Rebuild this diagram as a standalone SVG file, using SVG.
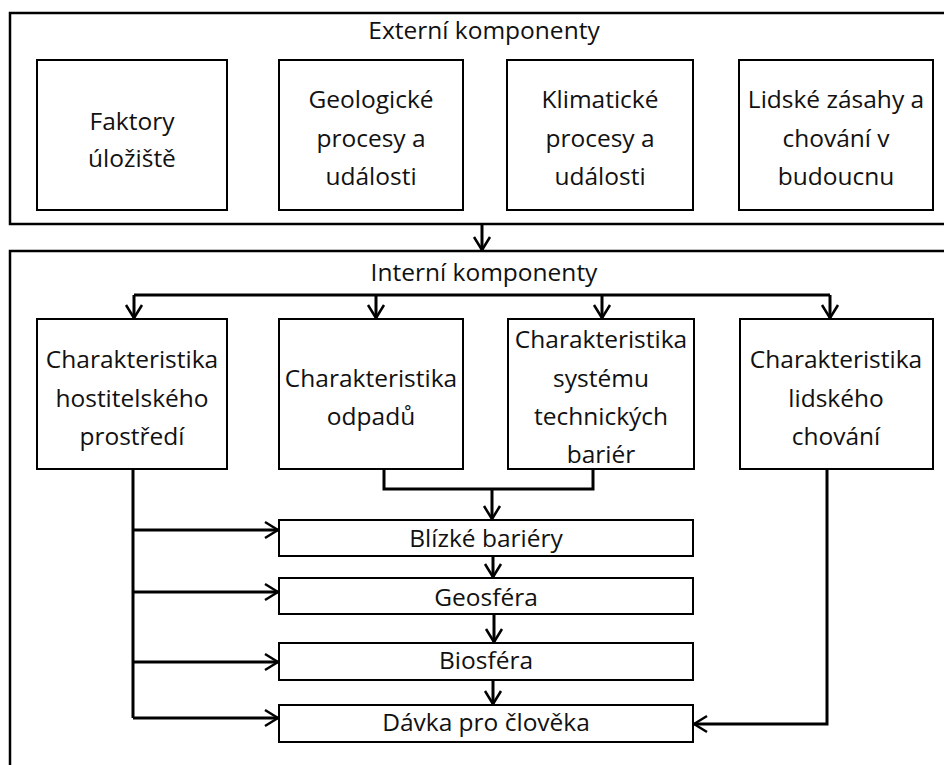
<svg xmlns="http://www.w3.org/2000/svg" width="944" height="765" viewBox="0 0 944 765">
  <defs>
    <marker id="arrow" markerUnits="userSpaceOnUse" markerWidth="24" markerHeight="24" viewBox="-16 -12 24 24" refX="0" refY="0" orient="auto" overflow="visible">
      <path d="M-13,-8 L0,0 L-13,8" fill="none" stroke="#000" stroke-width="2.5" stroke-linejoin="round"/>
    </marker>
  </defs>
  <style>
    .frame { fill: none; stroke: #000; stroke-width: 2.5; }
    .box { fill: #fff; stroke: #000; stroke-width: 2; }
    .lbl { font-family: "Open Sans", "Liberation Sans", sans-serif; font-size: 24.5px; fill: #111; text-anchor: middle; }
    .wire { fill: none; stroke: #000; stroke-width: 3; }
    .arr { marker-end: url(#arrow); }
  </style>
  <rect width="944" height="765" fill="#fff"/>

  <!-- external components frame -->
  <g id="external">
    <rect class="frame" x="10" y="13" width="960" height="211"/>
    <text class="lbl" x="484" y="39">Externí komponenty</text>
  </g>
  <g id="faktory">
    <rect class="box" x="37" y="60" width="190" height="150"/>
    <text class="lbl" x="132" y="130">Faktory</text>
    <text class="lbl" x="132" y="167">úložiště</text>
  </g>
  <g id="geologicke">
    <rect class="box" x="279" y="60" width="184" height="150"/>
    <text class="lbl" x="371" y="108">Geologické</text>
    <text class="lbl" x="371" y="146.5">procesy a</text>
    <text class="lbl" x="371" y="185">události</text>
  </g>
  <g id="klimaticke">
    <rect class="box" x="507" y="60" width="186" height="150"/>
    <text class="lbl" x="600" y="108">Klimatické</text>
    <text class="lbl" x="600" y="146.5">procesy a</text>
    <text class="lbl" x="600" y="185">události</text>
  </g>
  <g id="lidske-zasahy">
    <rect class="box" x="739" y="60" width="194" height="150"/>
    <text class="lbl" x="836" y="108">Lidské zásahy a</text>
    <text class="lbl" x="836" y="146.5">chování v</text>
    <text class="lbl" x="836" y="185">budoucnu</text>
  </g>

  <!-- internal components frame -->
  <g id="internal">
    <rect class="frame" x="10" y="251" width="960" height="530"/>
    <text class="lbl" x="484" y="281">Interní komponenty</text>
  </g>
  <g id="hostitelske">
    <rect class="box" x="37" y="319" width="190" height="150"/>
    <text class="lbl" x="132" y="368">Charakteristika</text>
    <text class="lbl" x="132" y="406.5">hostitelského</text>
    <text class="lbl" x="132" y="445">prostředí</text>
  </g>
  <g id="odpady">
    <rect class="box" x="279" y="319" width="184" height="150"/>
    <text class="lbl" x="371" y="387">Charakteristika</text>
    <text class="lbl" x="371" y="425">odpadů</text>
  </g>
  <g id="technicke-bariery">
    <rect class="box" x="508" y="319" width="186" height="150"/>
    <text class="lbl" x="601" y="348">Charakteristika</text>
    <text class="lbl" x="601" y="386.5">systému</text>
    <text class="lbl" x="601" y="425">technických</text>
    <text class="lbl" x="601" y="463">bariér</text>
  </g>
  <g id="lidske-chovani">
    <rect class="box" x="740" y="319" width="193" height="150"/>
    <text class="lbl" x="836" y="368">Charakteristika</text>
    <text class="lbl" x="836" y="406.5">lidského</text>
    <text class="lbl" x="836" y="445">chování</text>
  </g>
  <g id="blizke-bariery">
    <rect class="box" x="279" y="520" width="414" height="36"/>
    <text class="lbl" x="486" y="547">Blízké bariéry</text>
  </g>
  <g id="geosfera">
    <rect class="box" x="279" y="578" width="414" height="36"/>
    <text class="lbl" x="486" y="606">Geosféra</text>
  </g>
  <g id="biosfera">
    <rect class="box" x="279" y="643" width="414" height="37"/>
    <text class="lbl" x="486" y="669">Biosféra</text>
  </g>
  <g id="davka">
    <rect class="box" x="279" y="705" width="414" height="37"/>
    <text class="lbl" x="486" y="731">Dávka pro člověka</text>
  </g>

  <!-- connectors -->
  <g id="connectors">
    <path class="wire arr" d="M482,224 V250"/>
    <path class="wire" d="M134,295 H830"/>
    <path class="wire arr" d="M134,295 V318"/>
    <path class="wire arr" d="M376,295 V318"/>
    <path class="wire arr" d="M602,295 V318"/>
    <path class="wire arr" d="M830,295 V318"/>
    <path class="wire" d="M384,469 V489 H593 V469"/>
    <path class="wire arr" d="M492,489 V519"/>
    <path class="wire arr" d="M493,556 V577"/>
    <path class="wire arr" d="M494,614 V642"/>
    <path class="wire arr" d="M493,680 V704"/>
    <path class="wire" d="M133,469 V718"/>
    <path class="wire arr" d="M133,530 H278"/>
    <path class="wire arr" d="M133,592 H278"/>
    <path class="wire arr" d="M133,662 H278"/>
    <path class="wire arr" d="M133,718 H278"/>
    <path class="wire arr" d="M827,469 V724 H694"/>
  </g>
</svg>
